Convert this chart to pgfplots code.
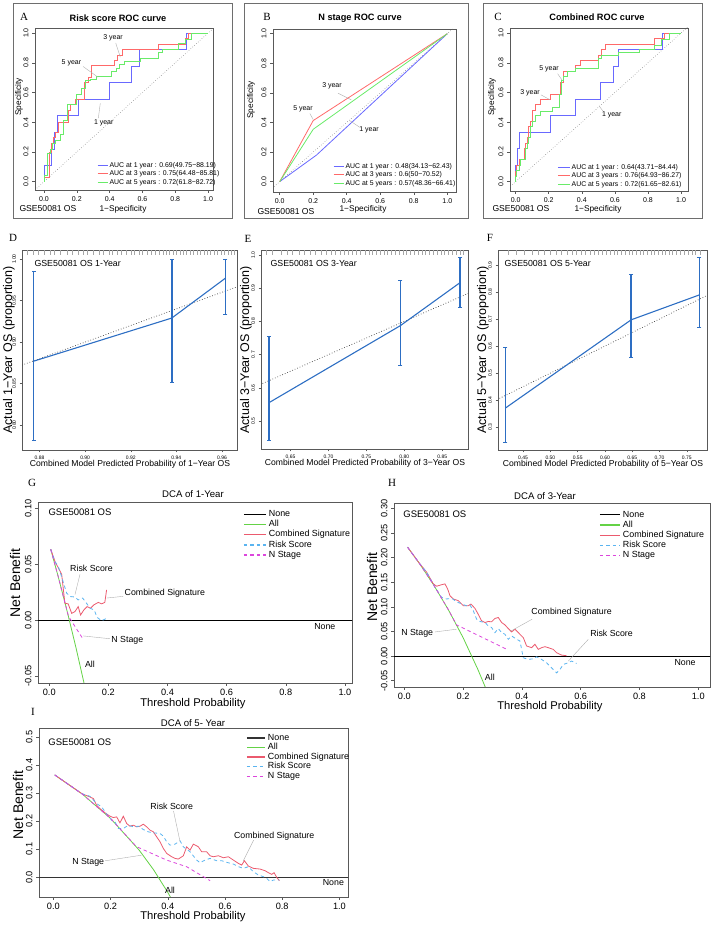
\documentclass[border=0pt]{standalone}
\usepackage{pgfplots}
\pgfplotsset{compat=1.18}
\usepackage{fontspec}
\setmainfont{Liberation Sans}
\newfontfamily\lserif{Liberation Serif}
\newcommand{\fs}[1]{\fontsize{#1}{#1}\selectfont}
\definecolor{rocblue}{RGB}{105,105,255}
\definecolor{rocred}{RGB}{255,105,105}
\definecolor{rocgreen}{RGB}{105,235,105}
\definecolor{calblue}{RGB}{45,110,195}
\definecolor{dcagreen}{RGB}{100,210,70}
\definecolor{dcared}{RGB}{235,90,110}
\definecolor{dcablue}{RGB}{90,180,240}
\definecolor{dcamag}{RGB}{220,70,220}
\definecolor{framegray}{RGB}{110,110,110}
\definecolor{leader}{RGB}{175,175,175}
\pgfplotsset{
 base/.style={scale only axis, anchor=south west, axis line style={black!65, line width=0.55pt},
   tick style={black!65, line width=0.5pt}, tick pos=left, tick align=outside, major tick length=3pt,
   /pgf/number format/assume math mode=true, clip=true},
 roc/.style={base, xtick={0,0.2,0.4,0.6,0.8,1}, ytick={0,0.2,0.4,0.6,0.8,1},
   xticklabel style={font=\fs{7}, /pgf/number format/.cd, fixed, fixed zerofill, precision=1},
   yticklabel style={font=\fs{7}, rotate=90, anchor=south, /pgf/number format/.cd, fixed, fixed zerofill, precision=1},
   legend style={draw=none, fill=none, font=\fs{6.9}, anchor=north west, row sep=1.2pt, column sep=1pt,
     nodes={inner sep=0.3pt, text height=5.2pt, text depth=1.5pt}},
   legend cell align=left,
   legend image code/.code={\draw[#1, line width=1.2pt] (0pt,0pt) -- (10pt,0pt);}},
 cal/.style={base, major tick length=2.5pt,
   xticklabel style={font=\fs{5}, /pgf/number format/.cd, fixed, fixed zerofill, precision=2}},
 dca/.style={base, xtick={0,0.2,0.4,0.6,0.8,1},
   xticklabel style={font=\fs{9.2}, /pgf/number format/.cd, fixed, fixed zerofill, precision=1},
   legend style={draw=none, fill=none, font=\fs{8.9}, anchor=north west, row sep=0.9pt, column sep=2pt,
     nodes={inner sep=0.5pt, text height=6.4pt, text depth=1.9pt}},
   legend cell align=left,
   legend image code/.code={\draw[#1, line width=1.3pt] (0pt,0pt) -- (22pt,0pt);}},
 dash/.style={dash pattern=on 3.5pt off 3pt},
 ebar/.style={calblue, line width=1.5pt, mark=-, mark size=2pt, mark options={solid, line width=1.2pt}}
}
\begin{document}
\begin{tikzpicture}
\path[use as bounding box] (0pt,0pt) rectangle (713pt,925pt);
% frames of A B C
\draw[framegray, line width=0.7pt] (13pt,707pt) rectangle (232pt,922pt);
\draw[framegray, line width=0.7pt] (244pt,707pt) rectangle (468pt,922pt);
\draw[framegray, line width=0.7pt] (483pt,707pt) rectangle (702pt,922pt);

% ---------------- A ----------------
\begin{axis}[roc, at={(35pt,735pt)}, width=178pt, height=162pt, xmin=-0.055, xmax=1.03, ymin=-0.056, ymax=1.034,
  legend style={at={(0.331,0.188)}}]
\addplot[black!60, dotted, line width=0.5pt, forget plot] coordinates {(-0.1,-0.1) (1.1,1.1)};
\addplot[rocblue, line width=0.8pt] coordinates {(0,0) (0,0.11) (0.045,0.11) (0.045,0.22) (0.065,0.22) (0.065,0.33) (0.08,0.33) (0.08,0.444) (0.21,0.444) (0.21,0.555) (0.40,0.555) (0.40,0.667) (0.53,0.667) (0.53,0.778) (0.58,0.778) (0.58,0.889) (0.87,0.889) (0.87,1) (1,1)};
\addlegendentry{AUC at 1 year : 0.69(49.75−88.19)}
\addplot[rocred, line width=0.8pt] coordinates {(0,0) (0,0.03) (0.03,0.03) (0.03,0.2) (0.045,0.2) (0.045,0.26) (0.06,0.26) (0.06,0.3) (0.07,0.3) (0.07,0.33) (0.09,0.33) (0.09,0.4) (0.15,0.4) (0.15,0.48) (0.16,0.48) (0.16,0.52) (0.19,0.52) (0.19,0.555) (0.245,0.555) (0.245,0.667) (0.27,0.667) (0.27,0.7) (0.29,0.7) (0.29,0.78) (0.43,0.78) (0.43,0.815) (0.45,0.815) (0.45,0.85) (0.48,0.85) (0.48,0.89) (0.7,0.89) (0.7,0.926) (0.86,0.926) (0.86,0.963) (0.88,0.963) (0.88,1) (1,1)};
\addlegendentry{AUC at 3 years : 0.75(64.48−85.81)}
\addplot[rocgreen, line width=0.8pt] coordinates {(0,0) (0,0.04) (0.02,0.04) (0.02,0.19) (0.04,0.19) (0.04,0.22) (0.05,0.22) (0.05,0.26) (0.07,0.26) (0.07,0.28) (0.1,0.28) (0.1,0.32) (0.12,0.32) (0.12,0.41) (0.14,0.41) (0.14,0.52) (0.2,0.52) (0.2,0.59) (0.23,0.59) (0.23,0.63) (0.25,0.63) (0.25,0.68) (0.28,0.68) (0.28,0.69) (0.32,0.69) (0.32,0.71) (0.41,0.71) (0.41,0.74) (0.44,0.74) (0.44,0.76) (0.46,0.76) (0.46,0.79) (0.49,0.79) (0.49,0.81) (0.59,0.81) (0.59,0.83) (0.7,0.83) (0.7,0.87) (0.72,0.87) (0.72,0.89) (0.82,0.89) (0.82,0.93) (0.86,0.93) (0.86,0.96) (0.9,0.96) (0.9,1) (1,1)};
\addlegendentry{AUC at 5 years : 0.72(61.8−82.72)}
\draw[leader, line width=0.4pt] (axis cs:0.437,0.933) -- (axis cs:0.465,0.838);
\draw[leader, line width=0.4pt] (axis cs:0.238,0.775) -- (axis cs:0.329,0.703);
\draw[leader, line width=0.4pt] (axis cs:0.331,0.427) -- (axis cs:0.343,0.528);
\node[font=\fs{7}] at (axis cs:0.421,0.966) {3 year};
\node[font=\fs{7}] at (axis cs:0.167,0.802) {5 year};
\node[font=\fs{7}] at (axis cs:0.364,0.398) {1 year};
\end{axis}

% ---------------- B ----------------
\begin{axis}[roc, at={(273pt,733pt)}, width=183pt, height=163pt, xmin=-0.04, xmax=1.052, ymin=-0.07, ymax=1.032,
  legend style={at={(0.311,0.193)}}]
\addplot[black!60, dotted, line width=0.5pt, forget plot] coordinates {(-0.1,-0.1) (1.1,1.1)};
\addplot[rocblue, line width=0.8pt] coordinates {(0,0) (0.22,0.18) (1,1)};
\addlegendentry{AUC at 1 year : 0.48(34.13−62.43)}
\addplot[rocred, line width=0.8pt] coordinates {(0,0) (0.2,0.413) (1,1)};
\addlegendentry{AUC at 3 years : 0.6(50−70.52)}
\addplot[rocgreen, line width=0.8pt] coordinates {(0,0) (0.2,0.354) (1,1)};
\addlegendentry{AUC at 5 years : 0.57(48.36−66.41)}
\draw[leader, line width=0.4pt] (axis cs:0.348,0.598) -- (axis cs:0.427,0.553);
\draw[leader, line width=0.4pt] (axis cs:0.18,0.46) -- (axis cs:0.2,0.42);
\draw[leader, line width=0.4pt] (axis cs:0.477,0.368) -- (axis cs:0.417,0.413);
\node[font=\fs{7}] at (axis cs:0.312,0.648) {3 year};
\node[font=\fs{7}] at (axis cs:0.139,0.492) {5 year};
\node[font=\fs{7}] at (axis cs:0.533,0.35) {1 year};
\end{axis}

% ---------------- C ----------------
\begin{axis}[roc, at={(510pt,734pt)}, width=178pt, height=163pt, xmin=-0.034, xmax=1.042, ymin=-0.063, ymax=1.034,
  legend style={at={(0.247,0.181)}}, legend image code/.code={\draw[#1, line width=1.2pt] (0pt,0pt) -- (12pt,0pt);}]
\addplot[black!60, dotted, line width=0.5pt, forget plot] coordinates {(-0.1,-0.1) (1.1,1.1)};
\addplot[rocblue, line width=0.8pt] coordinates {(0,0) (0,0.11) (0.01,0.11) (0.01,0.222) (0.02,0.222) (0.02,0.333) (0.21,0.333) (0.21,0.444) (0.36,0.444) (0.36,0.555) (0.51,0.555) (0.51,0.667) (0.59,0.667) (0.59,0.778) (0.62,0.778) (0.62,0.889) (0.89,0.889) (0.89,1) (1,1)};
\addlegendentry{AUC at 1 year : 0.64(43.71−84.44)}
\addplot[rocred, line width=0.8pt] coordinates {(0,0) (0,0.07) (0.005,0.07) (0.005,0.11) (0.02,0.11) (0.02,0.148) (0.05,0.148) (0.05,0.222) (0.06,0.222) (0.06,0.26) (0.07,0.26) (0.07,0.3) (0.075,0.3) (0.075,0.37) (0.09,0.37) (0.09,0.407) (0.1,0.407) (0.1,0.48) (0.12,0.48) (0.12,0.52) (0.15,0.52) (0.15,0.555) (0.21,0.555) (0.21,0.59) (0.27,0.59) (0.27,0.667) (0.29,0.667) (0.29,0.74) (0.36,0.74) (0.36,0.78) (0.39,0.78) (0.39,0.815) (0.5,0.815) (0.5,0.852) (0.52,0.852) (0.52,0.889) (0.54,0.889) (0.54,0.926) (0.84,0.926) (0.84,0.963) (0.9,0.963) (0.9,1) (1,1)};
\addlegendentry{AUC at 3 years : 0.76(64.93−86.27)}
\addplot[rocgreen, line width=0.8pt] coordinates {(0,0) (0,0.037) (0.005,0.037) (0.005,0.074) (0.02,0.074) (0.02,0.11) (0.03,0.11) (0.03,0.148) (0.06,0.148) (0.06,0.222) (0.07,0.222) (0.07,0.26) (0.08,0.26) (0.08,0.296) (0.09,0.296) (0.09,0.37) (0.1,0.37) (0.1,0.407) (0.12,0.407) (0.12,0.444) (0.15,0.444) (0.15,0.47) (0.22,0.47) (0.22,0.5) (0.265,0.5) (0.265,0.59) (0.275,0.59) (0.275,0.68) (0.29,0.68) (0.29,0.71) (0.31,0.71) (0.31,0.74) (0.36,0.74) (0.36,0.76) (0.5,0.76) (0.5,0.83) (0.52,0.83) (0.52,0.85) (0.62,0.85) (0.62,0.87) (0.75,0.87) (0.75,0.89) (0.84,0.89) (0.84,0.92) (0.88,0.92) (0.88,0.96) (0.93,0.96) (0.93,1) (1,1)};
\addlegendentry{AUC at 5 years : 0.72(61.65−82.61)}
\draw[leader, line width=0.4pt] (axis cs:0.254,0.726) -- (axis cs:0.282,0.681);
\draw[leader, line width=0.4pt] (axis cs:0.153,0.584) -- (axis cs:0.208,0.551);
\draw[leader, line width=0.4pt] (axis cs:0.53,0.472) -- (axis cs:0.504,0.51);
\node[font=\fs{7}] at (axis cs:0.202,0.76) {5 year};
\node[font=\fs{7}] at (axis cs:0.087,0.596) {3 year};
\node[font=\fs{7}] at (axis cs:0.581,0.449) {1 year};
\end{axis}

% ROC texts
\node[font=\bfseries\fs{9.2}] at (118pt,907pt) {Risk score ROC curve};
\node[font=\bfseries\fs{9.2}] at (360pt,907pt) {N stage ROC curve};
\node[font=\bfseries\fs{9.2}] at (597pt,908pt) {Combined ROC curve};
\node[font=\lserif\fs{11}] at (24pt,908pt) {A};
\node[font=\lserif\fs{11}] at (267pt,908pt) {B};
\node[font=\lserif\fs{11}] at (498pt,908pt) {C};
\node[font=\fs{8.6}, anchor=west] at (16pt,716pt) {GSE50081 OS};
\node[font=\fs{8.3}] at (123pt,716pt) {1−Specificity};
\node[font=\fs{8.6}, anchor=west] at (254pt,713pt) {GSE50081 OS};
\node[font=\fs{8.3}] at (363pt,716pt) {1−Specificity};
\node[font=\fs{8.6}, anchor=west] at (489pt,716pt) {GSE50081 OS};
\node[font=\fs{8.3}] at (598pt,716pt) {1−Specificity};
\node[font=\fs{8.3}, rotate=90] at (19pt,828pt) {Specificity};
\node[font=\fs{8.3}, rotate=90] at (251pt,825pt) {Specificity};
\node[font=\fs{8.3}, rotate=90] at (492pt,828pt) {Specificity};

% ---------------- D ----------------
\begin{axis}[cal, at={(22pt,475pt)}, width=215pt, height=200pt, xmin=0.8723, xmax=0.9666, ymin=0.770, ymax=1.011,
  xtick={0.88,0.90,0.92,0.94,0.96}, ytick={0.80,0.85,0.90,0.95,1.00},
  yticklabel style={font=\fs{5}, rotate=90, anchor=south, /pgf/number format/.cd, fixed, fixed zerofill, precision=2}]
\addplot[only marks, mark=|, mark size=2.5pt, mark options={black!35, line width=0.3pt}] coordinates {(0.8745,1.0074) (0.877,1.0074) (0.8795,1.0074) (0.882,1.0074) (0.8848,1.0074) (0.8862,1.0074) (0.889,1.0074) (0.892,1.0074) (0.8945,1.0074) (0.897,1.0074) (0.899,1.0074) (0.901,1.0074) (0.9035,1.0074) (0.906,1.0074) (0.908,1.0074) (0.9105,1.0074) (0.912,1.0074) (0.914,1.0074) (0.916,1.0074) (0.918,1.0074) (0.92,1.0074) (0.9215,1.0074) (0.9235,1.0074) (0.925,1.0074) (0.927,1.0074) (0.929,1.0074) (0.9305,1.0074) (0.9325,1.0074) (0.934,1.0074) (0.9355,1.0074) (0.937,1.0074) (0.9385,1.0074) (0.94,1.0074) (0.9415,1.0074) (0.943,1.0074) (0.9445,1.0074) (0.946,1.0074) (0.9475,1.0074) (0.949,1.0074) (0.9505,1.0074) (0.952,1.0074) (0.9535,1.0074) (0.955,1.0074) (0.9565,1.0074) (0.958,1.0074) (0.9595,1.0074) (0.961,1.0074) (0.9625,1.0074) (0.964,1.0074) (0.9655,1.0074)};
\addplot[black!75, dotted, line width=0.7pt] coordinates {(0.86,0.86) (0.98,0.98)};
\addplot[calblue, line width=1.1pt] coordinates {(0.8774,0.877) (0.938,0.929) (0.9615,0.977)};
\addplot[ebar] coordinates {(0.8774,0.781) (0.8774,0.985)};
\addplot[ebar] coordinates {(0.938,0.851) (0.938,1.0)};
\addplot[ebar] coordinates {(0.9615,0.933) (0.9615,1.0)};
\end{axis}

% ---------------- E ----------------
\begin{axis}[cal, at={(261pt,476pt)}, width=207pt, height=199pt, xmin=0.611, xmax=0.884, ymin=0.4157, ymax=1.015,
  xtick={0.65,0.70,0.75,0.80,0.85}, ytick={0.5,0.6,0.7,0.8,0.9,1.0},
  yticklabel style={font=\fs{5}, rotate=90, anchor=south, /pgf/number format/.cd, fixed, fixed zerofill, precision=1}]
\addplot[only marks, mark=|, mark size=2.5pt, mark options={black!35, line width=0.3pt}] coordinates {(0.618,1.006) (0.626,1.006) (0.637,1.006) (0.645,1.006) (0.652,1.006) (0.661,1.006) (0.668,1.006) (0.676,1.006) (0.683,1.006) (0.69,1.006) (0.697,1.006) (0.703,1.006) (0.709,1.006) (0.715,1.006) (0.72,1.006) (0.726,1.006) (0.731,1.006) (0.737,1.006) (0.742,1.006) (0.748,1.006) (0.753,1.006) (0.758,1.006) (0.763,1.006) (0.768,1.006) (0.773,1.006) (0.778,1.006) (0.783,1.006) (0.788,1.006) (0.793,1.006) (0.798,1.006) (0.803,1.006) (0.808,1.006) (0.813,1.006) (0.818,1.006) (0.823,1.006) (0.828,1.006) (0.833,1.006) (0.838,1.006) (0.843,1.006) (0.848,1.006) (0.853,1.006) (0.858,1.006) (0.863,1.006) (0.868,1.006) (0.873,1.006) (0.878,1.006)};
\addplot[black!75, dotted, line width=0.7pt] coordinates {(0.6,0.6) (0.9,0.9)};
\addplot[calblue, line width=1.1pt] coordinates {(0.6214,0.555) (0.7947,0.787) (0.8737,0.917)};
\addplot[ebar] coordinates {(0.6214,0.441) (0.6214,0.754)};
\addplot[ebar] coordinates {(0.7947,0.666) (0.7947,0.923)};
\addplot[ebar] coordinates {(0.8737,0.841) (0.8737,0.992)};
\end{axis}

% ---------------- F ----------------
\begin{axis}[cal, at={(498pt,475pt)}, width=209pt, height=200pt, xmin=0.404, xmax=0.787, ymin=0.216, ymax=0.955,
  xtick={0.45,0.50,0.55,0.60,0.65,0.70,0.75}, ytick={0.3,0.4,0.5,0.6,0.7,0.8,0.9},
  yticklabel style={font=\fs{5}, rotate=90, anchor=south, /pgf/number format/.cd, fixed, fixed zerofill, precision=1}]
\addplot[only marks, mark=|, mark size=2.5pt, mark options={black!35, line width=0.3pt}] coordinates {(0.422,0.944) (0.438,0.944) (0.451,0.944) (0.466,0.944) (0.478,0.944) (0.489,0.944) (0.5,0.944) (0.51,0.944) (0.52,0.944) (0.53,0.944) (0.539,0.944) (0.548,0.944) (0.556,0.944) (0.564,0.944) (0.572,0.944) (0.58,0.944) (0.588,0.944) (0.595,0.944) (0.602,0.944) (0.609,0.944) (0.616,0.944) (0.623,0.944) (0.63,0.944) (0.637,0.944) (0.644,0.944) (0.65,0.944) (0.657,0.944) (0.664,0.944) (0.67,0.944) (0.677,0.944) (0.684,0.944) (0.69,0.944) (0.697,0.944) (0.704,0.944) (0.71,0.944) (0.717,0.944) (0.724,0.944) (0.731,0.944) (0.738,0.944) (0.745,0.944) (0.752,0.944) (0.759,0.944) (0.766,0.944) (0.774,0.944)};
\addplot[black!75, dotted, line width=0.7pt] coordinates {(0.38,0.38) (0.8,0.8)};
\addplot[calblue, line width=1.1pt] coordinates {(0.4176,0.371) (0.648,0.697) (0.773,0.789)};
\addplot[ebar] coordinates {(0.4176,0.243) (0.4176,0.595)};
\addplot[ebar] coordinates {(0.648,0.558) (0.648,0.863)};
\addplot[ebar] coordinates {(0.773,0.67) (0.773,0.928)};
\end{axis}

% calibration texts
\node[font=\lserif\fs{11}] at (13pt,687pt) {D};
\node[font=\lserif\fs{11}] at (248pt,686pt) {E};
\node[font=\lserif\fs{11}] at (490pt,687pt) {F};
\node[font=\fs{8.8}, anchor=west] at (31pt,662pt) {GSE50081 OS 1-Year};
\node[font=\fs{8.8}, anchor=west] at (267pt,662pt) {GSE50081 OS 3-Year};
\node[font=\fs{8.8}, anchor=west] at (501pt,662pt) {GSE50081 OS 5-Year};
\node[font=\fs{12.5}, rotate=90] at (9pt,575pt) {Actual 1−Year OS (proportion)};
\node[font=\fs{12.5}, rotate=90] at (246pt,575pt) {Actual 3−Year OS (proportion)};
\node[font=\fs{12.5}, rotate=90] at (483pt,575pt) {Actual 5−Year OS (proportion)};
\node[font=\fs{8.6}] at (130pt,461pt) {Combined Model Predicted Probability of 1−Year OS};
\node[font=\fs{8.6}] at (365pt,462pt) {Combined Model Predicted Probability of 3−Year OS};
\node[font=\fs{8.6}] at (603pt,461pt) {Combined Model Predicted Probability of 5−Year OS};

% ---------------- G ----------------
\begin{axis}[dca, at={(38pt,242pt)}, width=314pt, height=181pt, xmin=-0.038, xmax=1.024, ymin=-0.0563, ymax=0.1056,
  ytick={-0.05,0,0.05,0.1},
  yticklabel style={font=\fs{9.2}, rotate=90, anchor=south, /pgf/number format/.cd, fixed, fixed zerofill, precision=2},
  legend style={at={(0.643,0.970)}}]
\addplot[black, line width=0.8pt] coordinates {(-0.1,0) (1.1,0)};
\addlegendentry{None}
\addplot[dcagreen, line width=0.8pt] coordinates {(0.005,0.0633) (0.03,0.0392) (0.06,0.0085) (0.09,-0.0242) (0.12,-0.0591)};
\addlegendentry{All}
\addplot[dcared, line width=0.8pt] coordinates {(0.005,0.0633) (0.02,0.052) (0.042,0.041) (0.053,0.015) (0.064,0.0145) (0.076,0.006) (0.087,0.0076) (0.098,0.012) (0.106,0.0045) (0.117,0.009) (0.128,0.012) (0.14,0.0106) (0.151,0.0136) (0.166,0.0158) (0.177,0.0145) (0.188,0.0158) (0.194,0.027)};
\addlegendentry{Combined Signature}
\addplot[dcablue, dash, line width=0.8pt] coordinates {(0.005,0.0633) (0.02,0.052) (0.03,0.0485) (0.045,0.036) (0.059,0.024) (0.072,0.021) (0.087,0.0206) (0.098,0.018) (0.113,0.0197) (0.124,0.0158) (0.138,0.0106) (0.152,0.009) (0.162,0.0024) (0.177,-0.0006) (0.194,0.0015)};
\addlegendentry{Risk Score}
\addplot[dcamag, dash, line width=0.8pt] coordinates {(0.005,0.0633) (0.03,0.0392) (0.065,0.0034) (0.115,-0.0173)};
\addlegendentry{N Stage}
\draw[leader, line width=0.4pt] (axis cs:0.104,0.0409) -- (axis cs:0.087,0.0227);
\draw[leader, line width=0.4pt] (axis cs:0.25,0.0212) -- (axis cs:0.194,0.0197);
\draw[leader, line width=0.4pt] (axis cs:0.205,-0.0167) -- (axis cs:0.115,-0.0142);
\node[font=\fs{8.8}] at (axis cs:0.143,0.0464) {Risk Score};
\node[font=\fs{8.8}] at (axis cs:0.391,0.0236) {Combined Signature};
\node[font=\fs{8.8}] at (axis cs:0.264,-0.0182) {N Stage};
\node[font=\fs{8.8}] at (axis cs:0.1375,-0.04) {All};
\node[font=\fs{8.8}] at (axis cs:0.932,-0.006) {None};
\node[font=\fs{9.5}] at (axis cs:0.104,0.0964) {GSE50081 OS};
\end{axis}

% ---------------- H ----------------
\begin{axis}[dca, at={(394pt,238pt)}, width=316pt, height=184pt, xmin=-0.035, xmax=1.04, ymin=-0.0628, ymax=0.311,
  ytick={-0.05,0,0.05,0.1,0.15,0.2,0.25,0.3},
  yticklabel style={font=\fs{9.2}, rotate=90, anchor=south, /pgf/number format/.cd, fixed, fixed zerofill, precision=2},
  legend style={at={(0.639,0.973)}}, legend image code/.code={\draw[#1, line width=1.3pt] (0pt,0pt) -- (20pt,0pt);}]
\addplot[black, line width=0.8pt] coordinates {(-0.1,0) (1.1,0)};
\addlegendentry{None}
\addplot[dcagreen, line width=0.8pt] coordinates {(0.0113,0.2212) (0.05,0.1895) (0.1,0.1444) (0.15,0.0941) (0.2,0.0375) (0.25,-0.0267) (0.28,-0.0694)};
\addlegendentry{All}
\addplot[dcared, line width=0.8pt] coordinates {(0.0113,0.2212) (0.05,0.1895) (0.076,0.1705) (0.0986,0.1467) (0.110,0.1419) (0.1247,0.1446) (0.1383,0.1467) (0.1474,0.1364) (0.1553,0.1228) (0.1667,0.116) (0.1837,0.1126) (0.2007,0.1023) (0.2177,0.1023) (0.2268,0.1057) (0.2404,0.0969) (0.2494,0.0873) (0.263,0.0716) (0.2744,0.0682) (0.2857,0.0703) (0.297,0.0696) (0.3084,0.0764) (0.3197,0.0784) (0.3311,0.0682) (0.3424,0.0634) (0.3537,0.0559) (0.3651,0.0491) (0.3764,0.0546) (0.3878,0.0477) (0.4048,0.0375) (0.4161,0.0205) (0.4331,0.0171) (0.4444,0.0239) (0.4558,0.0136) (0.4671,0.0171) (0.4785,0.0191) (0.4898,0.0171) (0.5068,0.0136) (0.5181,0.0068) (0.5351,0.002) (0.5522,0.0007)};
\addlegendentry{Combined Signature}
\addplot[dcablue, dash, line width=0.8pt] coordinates {(0.0113,0.2212) (0.05,0.1895) (0.076,0.1705) (0.1043,0.1398) (0.127,0.1194) (0.144,0.116) (0.161,0.1173) (0.178,0.1105) (0.195,0.1057) (0.212,0.1023) (0.2234,0.1037) (0.2347,0.0921) (0.246,0.075) (0.2574,0.0703) (0.2744,0.0682) (0.2857,0.0614) (0.297,0.058) (0.3084,0.0477) (0.3197,0.0559) (0.3311,0.0477) (0.3424,0.0443) (0.3537,0.0341) (0.3651,0.0409) (0.3821,0.0341) (0.3934,0.0307) (0.4048,-0.0034) (0.4218,-0.0068) (0.4388,-0.0055) (0.4501,-0.0014) (0.4671,-0.0068) (0.4841,-0.0136) (0.5011,-0.0239) (0.5181,-0.0341) (0.5295,-0.0273) (0.5408,-0.0171) (0.5578,-0.0136) (0.5692,-0.0102) (0.5862,-0.015)};
\addlegendentry{Risk Score}
\addplot[dcamag, dash, line width=0.8pt] coordinates {(0.0113,0.2212) (0.05,0.1895) (0.1,0.1444) (0.15,0.0941) (0.178,0.0633) (0.3537,0.0123)};
\addlegendentry{N Stage}
\draw[leader, line width=0.4pt] (axis cs:0.435,0.075) -- (axis cs:0.36,0.05);
\draw[leader, line width=0.4pt] (axis cs:0.104,0.049) -- (axis cs:0.178,0.0546);
\draw[leader, line width=0.4pt] (axis cs:0.626,0.034) -- (axis cs:0.558,-0.0102);
\node[font=\fs{8.8}] at (axis cs:0.569,0.090) {Combined Signature};
\node[font=\fs{8.8}] at (axis cs:0.044,0.0464) {N Stage};
\node[font=\fs{8.8}] at (axis cs:0.705,0.0464) {Risk Score};
\node[font=\fs{8.8}] at (axis cs:0.291,-0.0423) {All};
\node[font=\fs{8.8}] at (axis cs:0.955,-0.0123) {None};
\node[font=\fs{9.5}] at (axis cs:0.104,0.288) {GSE50081 OS};
\end{axis}

% ---------------- I ----------------
\begin{axis}[dca, at={(39pt,28pt)}, width=309pt, height=169pt, xmin=-0.05, xmax=1.03, ymin=-0.070, ymax=0.532,
  ytick={0,0.1,0.2,0.3,0.4,0.5},
  yticklabel style={font=\fs{9.2}, rotate=90, anchor=south, /pgf/number format/.cd, fixed, fixed zerofill, precision=1},
  legend style={at={(0.660,0.982)}, row sep=0.3pt}, legend image code/.code={\draw[#1, line width=1.3pt] (0pt,0pt) -- (18pt,0pt);}]
\addplot[black!80, line width=0.8pt] coordinates {(-0.1,0) (1.1,0)};
\addlegendentry{None}
\addplot[dcagreen, line width=0.8pt] coordinates {(0.005,0.3648) (0.1,0.2978) (0.2,0.21) (0.3,0.0971) (0.35,0.0277) (0.4,-0.0533) (0.42,-0.0897)};
\addlegendentry{All}
\addplot[dcared, line width=0.8pt] coordinates {(0.005,0.3648) (0.1,0.2978) (0.128,0.2864) (0.14,0.2805) (0.1515,0.2568) (0.163,0.245) (0.181,0.2296) (0.198,0.2178) (0.21,0.213) (0.2214,0.2154) (0.233,0.194) (0.2448,0.2178) (0.2564,0.1917) (0.268,0.1822) (0.2797,0.1858) (0.2914,0.1799) (0.303,0.1822) (0.3147,0.1893) (0.3263,0.1799) (0.338,0.168) (0.3497,0.1621) (0.3613,0.1444) (0.373,0.1266) (0.3846,0.103) (0.3963,0.0852) (0.4138,0.0734) (0.4254,0.0675) (0.437,0.0651) (0.4545,0.0769) (0.4662,0.1089) (0.4779,0.097) (0.4895,0.1183) (0.507,0.1089) (0.5186,0.0911) (0.5361,0.0911) (0.5478,0.0769) (0.5594,0.0734) (0.5769,0.0769) (0.5944,0.0698) (0.6119,0.0734) (0.6294,0.0615) (0.6469,0.0497) (0.6585,0.0438) (0.6678,0.0592) (0.6818,0.0402) (0.6993,0.032) (0.7226,0.0296) (0.7401,0.0237) (0.7517,0.0166) (0.7634,0.0107) (0.7716,0.0166) (0.7809,0.0) (0.7902,-0.0118)};
\addlegendentry{Combined Signature}
\addplot[dcablue, dash, line width=0.8pt] coordinates {(0.005,0.3648) (0.1,0.2978) (0.128,0.2888) (0.1515,0.2627) (0.169,0.2509) (0.1865,0.2249) (0.204,0.2036) (0.2156,0.1976) (0.2273,0.174) (0.2448,0.174) (0.2622,0.1858) (0.2797,0.1799) (0.2972,0.1822) (0.3147,0.1704) (0.3322,0.1621) (0.3497,0.1586) (0.373,0.1562) (0.3846,0.1467) (0.3963,0.1266) (0.4079,0.1148) (0.4254,0.1183) (0.4429,0.1302) (0.4545,0.1089) (0.4779,0.0911) (0.5012,0.0615) (0.5128,0.0521) (0.5303,0.0615) (0.5478,0.0675) (0.5711,0.0592) (0.5886,0.0592) (0.6061,0.0533) (0.6294,0.0473) (0.6469,0.0379) (0.6643,0.032) (0.6818,0.0379) (0.6993,0.0201) (0.7168,0.0083) (0.7343,0.0024) (0.7459,-0.0036) (0.7576,-0.0154) (0.7692,-0.0095) (0.7902,-0.0095)};
\addlegendentry{Risk Score}
\addplot[dcamag, dash, line width=0.8pt] coordinates {(0.005,0.3648) (0.1,0.2978) (0.2,0.21) (0.29,0.1098) (0.396,0.0615) (0.466,0.0379) (0.548,-0.0118)};
\addlegendentry{N Stage}
\draw[leader, line width=0.4pt] (axis cs:0.42,0.237) -- (axis cs:0.443,0.127);
\draw[leader, line width=0.4pt] (axis cs:0.70,0.1325) -- (axis cs:0.664,0.059);
\draw[leader, line width=0.4pt] (axis cs:0.181,0.059) -- (axis cs:0.309,0.079);
\node[font=\fs{8.8}] at (axis cs:0.414,0.253) {Risk Score};
\node[font=\fs{8.8}] at (axis cs:0.772,0.147) {Combined Signature};
\node[font=\fs{8.8}] at (axis cs:0.122,0.052) {N Stage};
\node[font=\fs{8.8}] at (axis cs:0.408,-0.045) {All};
\node[font=\fs{8.8}] at (axis cs:0.979,-0.019) {None};
\node[font=\fs{9.5}] at (axis cs:0.093,0.482) {GSE50081 OS};
\end{axis}

% DCA texts
\node[font=\lserif\fs{11}] at (32pt,442pt) {G};
\node[font=\lserif\fs{11}] at (392pt,442pt) {H};
\node[font=\lserif\fs{11}] at (33pt,213pt) {I};
\node[font=\fs{9.6}] at (193pt,431pt) {DCA of 1-Year};
\node[font=\fs{9.6}] at (545pt,429pt) {DCA of 3-Year};
\node[font=\fs{9.6}] at (193pt,202pt) {DCA of 5- Year};
\node[font=\fs{14}, rotate=90] at (15pt,342pt) {Net Benefit};
\node[font=\fs{14}, rotate=90] at (372pt,338pt) {Net Benefit};
\node[font=\fs{14}, rotate=90] at (18pt,120pt) {Net Benefit};
\node[font=\fs{11.2}] at (193pt,221pt) {Threshold Probability};
\node[font=\fs{11.2}] at (550pt,218pt) {Threshold Probability};
\node[font=\fs{11.2}] at (193pt,8pt) {Threshold Probability};
\end{tikzpicture}
\end{document}
